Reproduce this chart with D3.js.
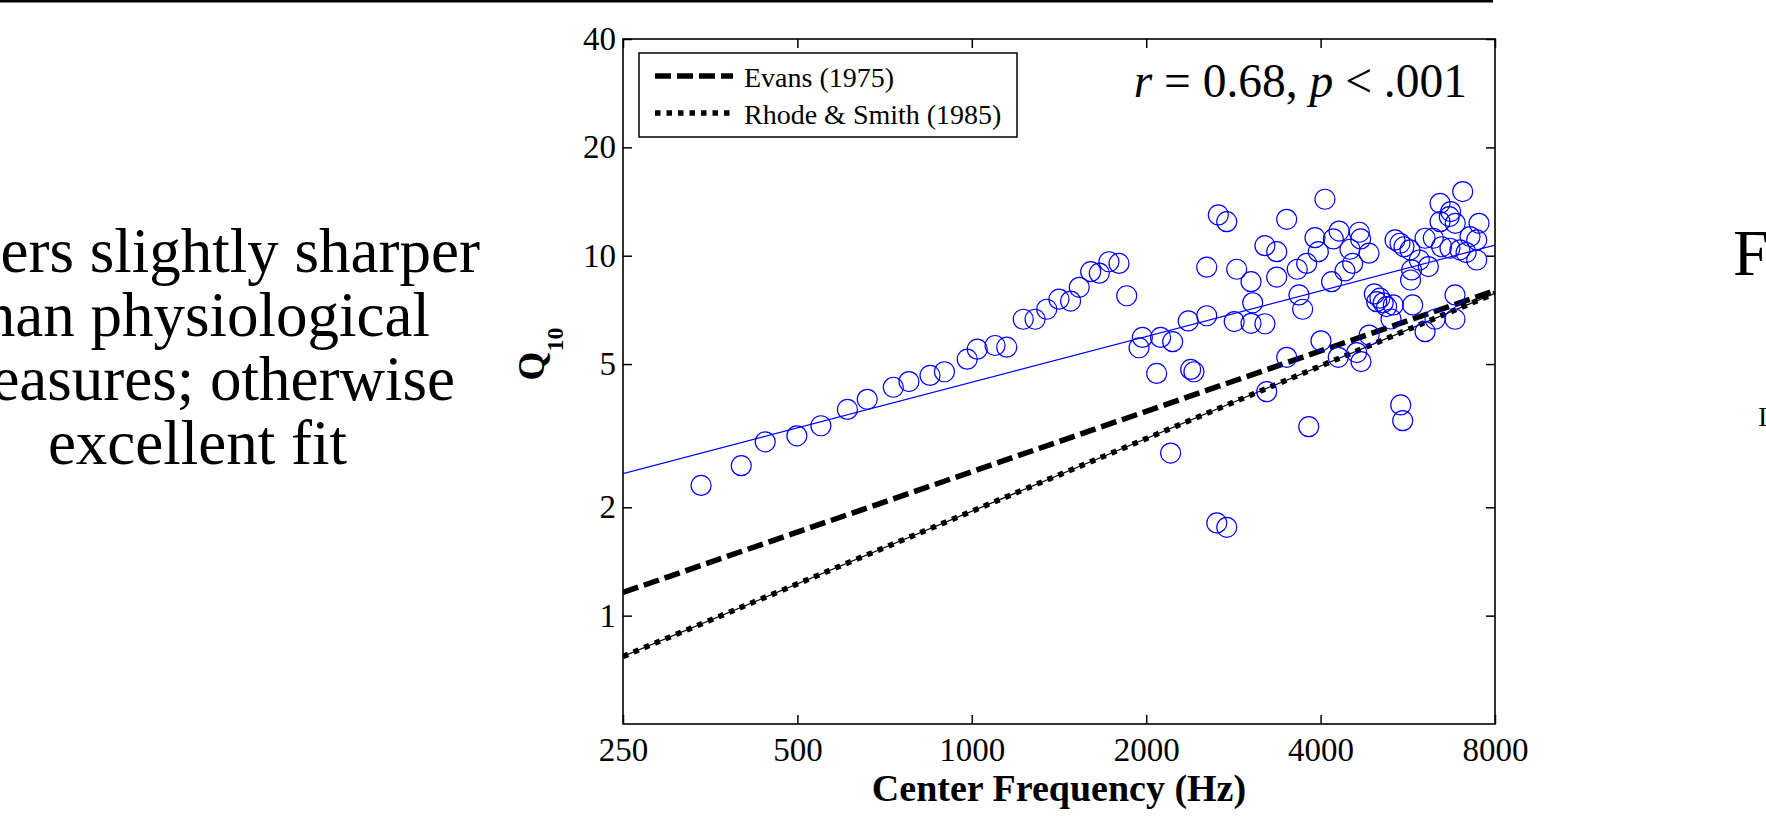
<!DOCTYPE html>
<html>
<head>
<meta charset="utf-8">
<script src="https://cdn.jsdelivr.net/npm/d3@7"></script>
<style>
  html, body { margin: 0; padding: 0; background: #fff; }
  svg { display: block; font-family: "Liberation Serif", "Times New Roman", serif; }
</style>
</head>
<body>
<svg id="chart" width="1766" height="830"></svg>
<script>
// filter estimates (center frequency in Hz, Q10)
const freqs = [341, 400, 440, 499, 549, 610, 660, 732, 779, 847, 897, 982, 1022, 1097, 1149,
  1227, 1286, 1347, 1414, 1481, 1533, 1604, 1660, 1725, 1795, 1851, 1970, 1944, 2118, 2222,
  2364, 2085, 2387, 2418, 2204, 2544, 2544, 2664, 2755, 3496, 4070, 3206, 3360, 2866, 3034,
  3360, 3646, 3785, 3912, 3964, 4208, 4305, 4495, 4665, 4690, 4848, 4544, 4407, 4179, 3671,
  3725, 3054, 2838, 3034, 3206, 3496, 4006, 3229, 4291, 4617, 4697, 4852, 3816, 5500, 5544,
  4952, 5000, 5064, 5130, 5200, 5340, 5292, 5768, 5377, 5485, 5572, 5707, 5922, 5744, 5720,
  6139, 6059, 6261, 6431, 6708, 6431, 6672, 6832, 7037, 7508, 7245, 7440, 6472, 6690, 6960,
  7132, 7440, 6825, 6825, 6304, 6059, 2648, 2755];
const q10s = [2.30, 2.61, 3.04, 3.16, 3.37, 3.74, 3.99, 4.31, 4.47, 4.65, 4.76, 5.16, 5.50, 5.63, 5.57,
  6.66, 6.66, 7.10, 7.57, 7.48, 8.17, 9.03, 8.94, 9.62, 9.52, 7.74, 5.93, 5.55, 5.93, 5.77,
  6.59, 4.71, 4.83, 4.76, 2.83, 9.29, 6.81, 12.98, 12.43, 12.62, 14.35, 10.66, 10.26, 9.17, 8.47,
  8.72, 9.17, 9.52, 11.22, 10.26, 11.13, 11.71, 10.42, 11.62, 11.13, 10.16, 9.52, 9.07, 8.47, 7.78,
  7.10, 7.40, 6.56, 6.49, 6.47, 5.22, 5.80, 4.19, 5.22, 5.38, 5.08, 6.02, 3.35, 3.85, 3.48,
  7.83, 7.45, 7.62, 7.40, 7.22, 7.30, 6.67, 7.30, 11.06, 10.83, 10.59, 10.38, 9.73, 9.13, 8.56,
  9.33, 11.18, 11.18, 13.98, 13.26, 12.43, 12.84, 12.30, 15.07, 12.30, 11.30, 11.06, 10.59, 10.49, 10.38,
  10.20, 9.73, 7.78, 6.66, 6.66, 6.15, 1.81, 1.76];

// straight lines on log-log axes, given at both ends of the range
const lineFreqs = [250, 8000];
const fitQ = [2.48, 10.7];
const evansQ = [1.16, 8.0];
const rhodeQ = [0.77, 7.86];

const xTicks = [250, 500, 1000, 2000, 4000, 8000];
const yTicks = [1, 2, 5, 10, 20, 40];
const legendLabels = ["Evans (1975)", "Rhode & Smith (1985)"];
const statText = ["r", " = 0.68, ", "p", " < .001"];
const slideLines = ["ers slightly sharper", "han physiological", "easures; otherwise", "excellent fit"];

const svg = d3.select('#chart');

// white page + rule at the top of the slide
svg.append('rect').attr('width', 1766).attr('height', 830).attr('fill', '#fff');
svg.append('rect').attr('x', 0).attr('y', 0).attr('width', 1493).attr('height', 2.5).attr('fill', '#000');

// slide text, left column (cut off by the left edge)
const slideRight = [480, 430, 455, 347];
svg.append('g').selectAll('text')
    .data(slideLines)
    .enter().append('text')
    .attr('x', (d, i) => slideRight[i])
    .attr('y', (d, i) => 272 + i * 64)
    .attr('text-anchor', 'end')
    .attr('font-size', 63)
    .attr('fill', '#000')
    .text(d => d);

// right column, only the first letters are visible
svg.append('text').attr('x', 1733).attr('y', 275).attr('font-size', 65).text('F');
svg.append('text').attr('x', 1758).attr('y', 426).attr('font-size', 28).text('I');

// plot area
const margin = { left: 623, right: 1495, top: 39, bottom: 724 };

const x = d3.scaleLog().domain([250, 8000]).range([margin.left, margin.right]);
const y = d3.scaleLog().domain([0.5, 40]).range([margin.bottom, margin.top]);

svg.append('clipPath').attr('id', 'plotclip')
    .append('rect')
    .attr('x', margin.left).attr('y', margin.top)
    .attr('width', margin.right - margin.left).attr('height', margin.bottom - margin.top);

const plot = svg.append('g').attr('clip-path', 'url(#plotclip)');

const line = d3.line()
    .x(d => x(d[0]))
    .y(d => y(d[1]));

// Rhode & Smith: thin line with heavy dots on top
const rhodeData = lineFreqs.map((f, i) => [f, rhodeQ[i]]);
plot.append('path')
    .attr('d', line(rhodeData))
    .attr('fill', 'none')
    .attr('stroke', '#000')
    .attr('stroke-width', 1.2);
plot.append('path')
    .attr('d', line(rhodeData))
    .attr('fill', 'none')
    .attr('stroke', '#000')
    .attr('stroke-width', 5.5)
    .attr('stroke-dasharray', '5.5,6');

// Evans: heavy dashes
plot.append('path')
    .attr('d', line(lineFreqs.map((f, i) => [f, evansQ[i]])))
    .attr('fill', 'none')
    .attr('stroke', '#000')
    .attr('stroke-width', 5.5)
    .attr('stroke-dasharray', '16,6');

// regression line
plot.append('path')
    .attr('d', line(lineFreqs.map((f, i) => [f, fitQ[i]])))
    .attr('fill', 'none')
    .attr('stroke', '#0000ff')
    .attr('stroke-width', 1.2);

// data circles
plot.selectAll('circle')
    .data(freqs.map((f, i) => [f, q10s[i]]))
    .enter().append('circle')
    .attr('cx', d => x(d[0]))
    .attr('cy', d => y(d[1]))
    .attr('r', 10)
    .attr('fill', 'none')
    .attr('stroke', '#0000ff')
    .attr('stroke-width', 1.2);

// axes (ticks pointing inward on all four sides)
const fmt = d3.format('d');
const tickLen = 9;

const xAxisGroup = svg.append('g').attr('transform', `translate(0, ${ margin.bottom })`)
    .call(d3.axisBottom(x).tickValues(xTicks).tickFormat(fmt).tickSizeInner(-tickLen).tickSizeOuter(0));
const xTopGroup = svg.append('g').attr('transform', `translate(0, ${ margin.top })`)
    .call(d3.axisTop(x).tickValues(xTicks).tickFormat('').tickSizeInner(-tickLen).tickSizeOuter(0));
const yAxisGroup = svg.append('g').attr('transform', `translate(${ margin.left }, 0)`)
    .call(d3.axisLeft(y).tickValues(yTicks).tickFormat(fmt).tickSizeInner(-tickLen).tickSizeOuter(0).tickPadding(7));
const yRightGroup = svg.append('g').attr('transform', `translate(${ margin.right }, 0)`)
    .call(d3.axisRight(y).tickValues(yTicks).tickFormat('').tickSizeInner(-tickLen).tickSizeOuter(0));

[xAxisGroup, xTopGroup, yAxisGroup, yRightGroup].forEach(g => {
    g.select('path.domain').remove();
    g.selectAll('line').attr('stroke', '#000').attr('stroke-width', 1.5);
    g.selectAll('text')
        .attr('font-family', '"Liberation Serif", "Times New Roman", serif')
        .attr('font-size', 33)
        .attr('fill', '#000');
});

xAxisGroup.selectAll('text').attr('dy', 0).attr('y', 37);

// axes box
svg.append('rect')
    .attr('x', margin.left).attr('y', margin.top)
    .attr('width', margin.right - margin.left).attr('height', margin.bottom - margin.top)
    .attr('fill', 'none')
    .attr('stroke', '#000')
    .attr('stroke-width', 1.6);

// axis titles
svg.append('text')
    .attr('x', (margin.left + margin.right) / 2)
    .attr('y', 801)
    .attr('text-anchor', 'middle')
    .attr('font-size', 38)
    .attr('font-weight', 'bold')
    .text('Center Frequency (Hz)');

const yTitle = svg.append('text')
    .attr('transform', 'translate(544, 354) rotate(-90)')
    .attr('text-anchor', 'middle')
    .attr('font-weight', 'bold')
    .attr('font-size', 37);
yTitle.append('tspan').text('Q');
yTitle.append('tspan').attr('font-size', 24).attr('dy', 19).text('10');

// correlation
const stat = svg.append('text')
    .attr('x', 1467)
    .attr('y', 97)
    .attr('text-anchor', 'end')
    .attr('font-size', 47.5)
    .style('white-space', 'pre');
statText.forEach((t, i) => {
    stat.append('tspan')
        .attr('font-style', i % 2 === 0 ? 'italic' : 'normal')
        .text(t);
});

// legend
const legend = svg.append('g');
legend.append('rect')
    .attr('x', 639).attr('y', 53)
    .attr('width', 378).attr('height', 84)
    .attr('fill', '#fff')
    .attr('stroke', '#000')
    .attr('stroke-width', 1.5);

const legendDash = ['16,6', '5.5,6'];
legendLabels.forEach((label, i) => {
    const ly = 76 + i * 37;
    legend.append('line')
        .attr('x1', 655).attr('x2', 733)
        .attr('y1', ly).attr('y2', ly)
        .attr('stroke', '#000')
        .attr('stroke-width', 5.5)
        .attr('stroke-dasharray', legendDash[i]);
    legend.append('text')
        .attr('x', 744)
        .attr('y', ly + 11)
        .attr('font-size', 28)
        .text(label);
});
</script>
</body>
</html>
